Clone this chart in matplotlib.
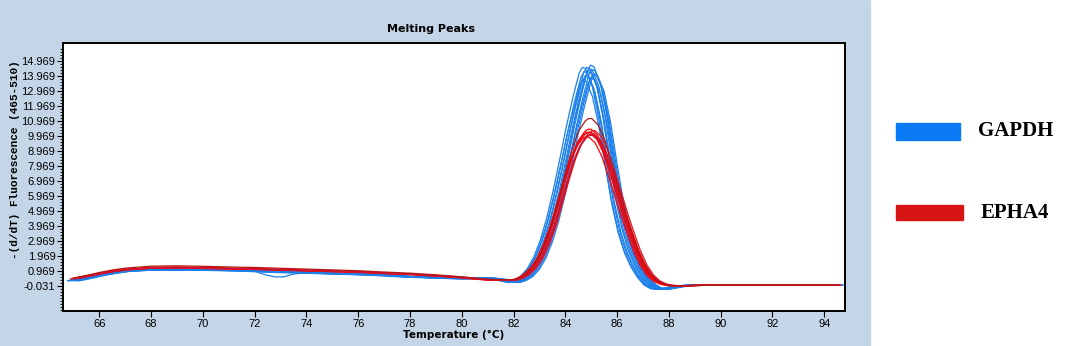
import numpy as np
import matplotlib
matplotlib.use("Agg")
import matplotlib.pyplot as plt
from matplotlib.patches import Rectangle
from matplotlib.ticker import FixedLocator

# temperature grid of the traced base curves (degC)
temps = [65.0, 65.5, 66.0, 66.5, 67.0, 68.0, 69.0, 70.0, 71.0, 72.0, 73.0, 74.0,
         75.0, 76.0, 77.0, 78.0, 79.0, 80.0, 80.5, 81.0, 81.5, 82.0, 82.25, 82.5,
         82.75, 83.0, 83.25, 83.5, 83.75, 84.0, 84.25, 84.5, 84.75, 84.875, 85.0,
         85.25, 85.5, 85.75, 86.0, 86.25, 86.5, 86.75, 87.0, 87.25, 87.5, 87.75,
         88.0, 88.5, 89.0, 90.0, 91.0, 92.0, 93.0, 94.0, 94.5]

gapdh = [0.32, 0.5, 0.7, 0.85, 0.97, 1.06, 1.06, 1.06, 1.02, 0.97, 0.9, 0.86,
         0.8, 0.75, 0.68, 0.58, 0.52, 0.46, 0.48, 0.5, 0.4, 0.2, 0.35, 0.62,
         1.1, 1.85, 2.95, 4.4, 6.2, 8.2, 10.3, 12.2, 13.85, 14.25, 14.15,
         13.1, 11.0, 8.2, 5.6, 3.6, 2.2, 1.25, 0.55, 0.05, -0.2, -0.26,
         -0.18, -0.03, 0.03, 0.03, 0.03, 0.03, 0.03, 0.03, 0.03]

epha4 = [0.46, 0.62, 0.8, 0.95, 1.06, 1.18, 1.2, 1.17, 1.13, 1.1, 1.05, 1.0,
         0.95, 0.9, 0.82, 0.75, 0.65, 0.53, 0.45, 0.38, 0.35, 0.36, 0.5, 0.78,
         1.2, 1.85, 2.8, 4.0, 5.5, 7.0, 8.4, 9.45, 10.05, 10.2, 10.2,
         9.8, 8.9, 7.6, 6.2, 4.8, 3.5, 2.3, 1.35, 0.7, 0.3, 0.1,
         0.0, -0.02, 0.0, 0.03, 0.03, 0.03, 0.03, 0.03, 0.03]

# replicate peak-height factors and temperature offsets
gapdh_scale = [0.96, 0.97, 0.98, 0.99, 1.0, 1.0, 1.01, 1.01, 1.02, 1.03, 0.985, 1.02]
gapdh_shift = [-0.2, 0.12, -0.1, 0.2, 0.0, -0.15, 0.15, 0.05, -0.05, 0.1, 0.25, -0.22]
epha4_scale = [0.97, 0.98, 0.99, 1.0, 1.0, 1.01, 1.02, 0.985, 1.09]
epha4_shift = [-0.1, 0.05, 0.1, 0.0, -0.05, 0.15, 0.0, 0.08, 0.02]
epha4_color = ["#ff0000", "#f20d0d", "#ff0000", "#d0102a", "#ff0000",
               "#e8101e", "#ff0000", "#c4183a", "#b01818"]

# one GAPDH replicate with a small dip around 72-74 degC
dip_t = [71.5, 72.0, 72.4, 72.8, 73.1, 73.5, 74.0]
dip_y = [1.0, 0.95, 0.72, 0.57, 0.57, 0.76, 0.86]

yticks = [-0.031 + k for k in range(16)]
xticks = list(range(66, 95, 2))

legend_names = ["GAPDH", "EPHA4"]
legend_colors = ["#0a7af7", "#d71515"]

fig = plt.figure(figsize=(10.92, 3.46), dpi=100)
fig.patches.append(Rectangle((0, 0), 870 / 1092, 1, transform=fig.transFigure,
                             color="#c3d5e6", zorder=-5))

ax = fig.add_axes([63 / 1092, 1 - 311 / 346, 782 / 1092, 268 / 346])
ax.set_zorder(2)
t = np.array(temps)
for s, d in zip(gapdh_scale, gapdh_shift):
    ax.plot(t + d, np.array(gapdh) * s, color="#1c80ea", lw=0.9)
ax.plot(dip_t, dip_y, color="#1c80ea", lw=0.9)
for s, d, c in zip(epha4_scale, epha4_shift, epha4_color):
    ax.plot(t + d, np.array(epha4) * s, color=c, lw=0.9)

ax.set_xlim(64.6, 94.8)
ax.set_ylim(-1.7, 16.15)
ax.set_xticks(xticks)
ax.set_yticks(yticks)
ax.set_yticklabels([f"{v:.3f}" for v in yticks])
ax.yaxis.set_minor_locator(FixedLocator([-0.031 + 0.2 * k for k in range(-8, 80)]))
ax.tick_params(axis="both", which="major", length=4, width=0.8, pad=1.5,
               labelsize=8, direction="out")
ax.tick_params(axis="y", which="minor", length=2, width=0.6)
for lab in ax.get_xticklabels() + ax.get_yticklabels():
    lab.set_fontfamily("Liberation Sans")
for sp in ax.spines.values():
    sp.set_linewidth(1.4)

fig.text(431 / 1092, 1 - 29.5 / 346, "Melting Peaks", ha="center", va="center",
         fontsize=8, fontweight="bold", family="DejaVu Sans")
fig.text(454 / 1092, 1 - 335 / 346, "Temperature (\u00b0C)", ha="center", va="center",
         fontsize=7.5, fontweight="bold", family="DejaVu Sans")
fig.text(15 / 1092, 1 - 160 / 346, "-(d/dT) Fluorescence (465-510)", rotation=90,
         ha="center", va="center", fontsize=8, fontweight="bold", family="Liberation Mono")

# legend on the white side
boxes = [(896, 123, 64, 17), (896, 205, 67, 15)]
text_pos = [(978, 131), (981, 213)]
for name, col, (bx, by, bw, bh), (tx, ty) in zip(legend_names, legend_colors, boxes, text_pos):
    fig.patches.append(Rectangle((bx / 1092, 1 - (by + bh) / 346), bw / 1092, bh / 346,
                                 transform=fig.transFigure, color=col))
    fig.text(tx / 1092, 1 - ty / 346, name, ha="left", va="center", fontsize=15,
             fontweight="bold", family="Liberation Serif")

fig.savefig("out.png", dpi=100)
